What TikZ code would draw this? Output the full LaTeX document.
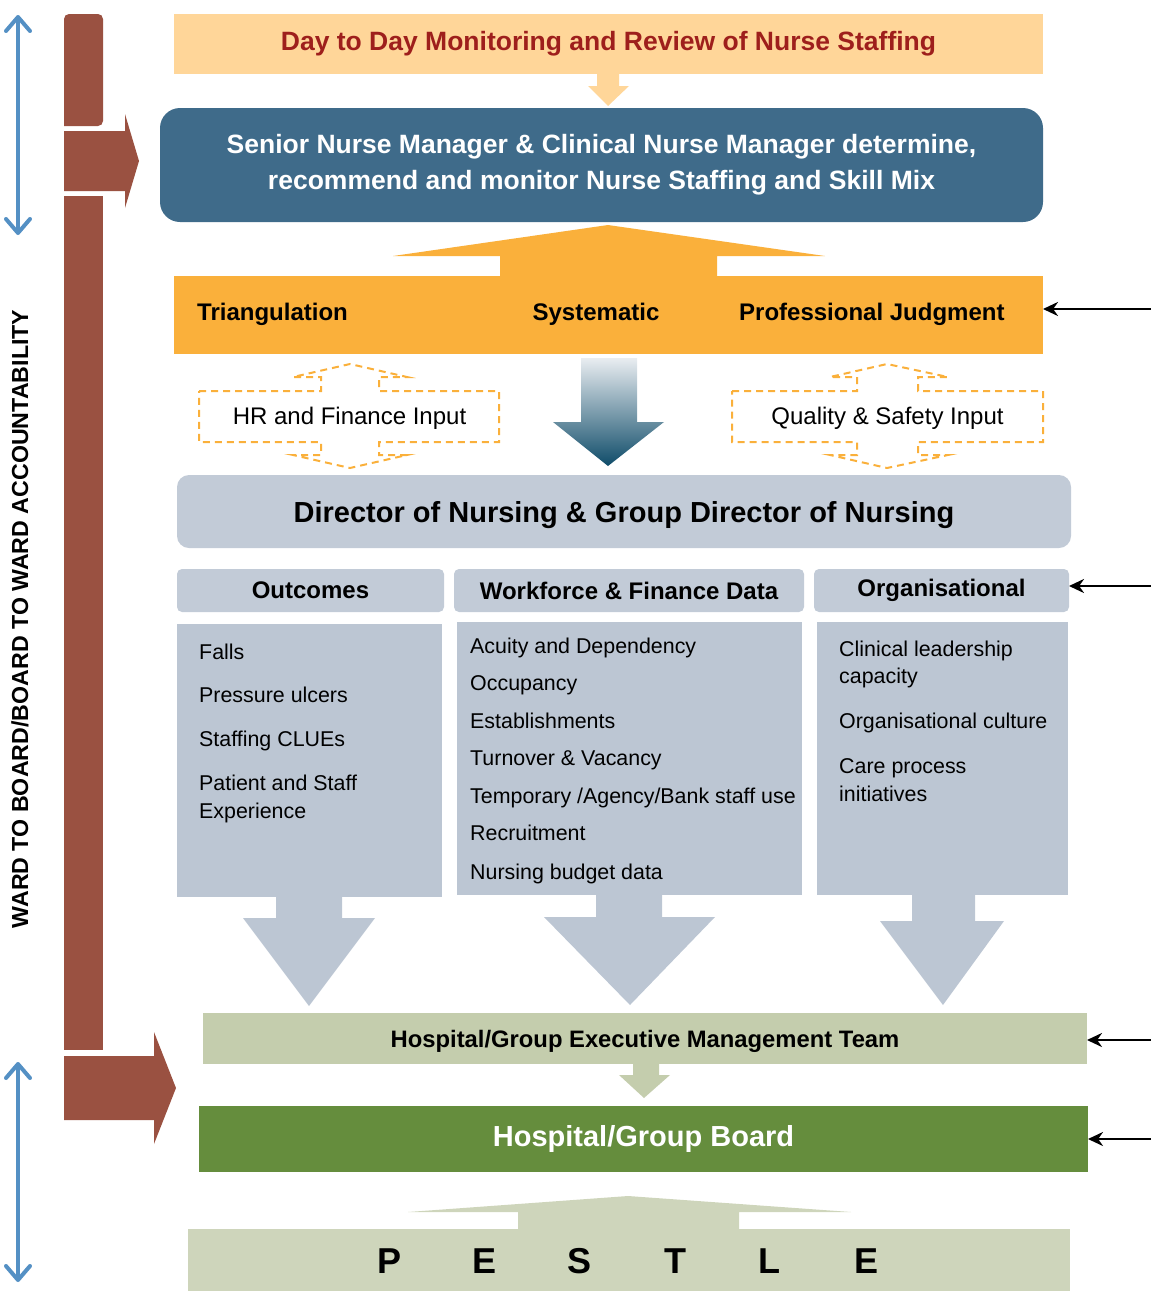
\documentclass[tikz,border=0pt]{standalone}
\usepackage{fontspec}
\setmainfont{Liberation Sans}
\usetikzlibrary{arrows.meta}
\definecolor{wardbrown}{HTML}{9A5141}
\definecolor{spanblue}{HTML}{5490C4}
\definecolor{peach}{HTML}{FFD699}
\definecolor{darkred}{HTML}{9E1F1C}
\definecolor{steel}{HTML}{3F6B8A}
\definecolor{amber}{HTML}{FAB03B}
\definecolor{slate}{HTML}{C2CBD7}
\definecolor{slatebody}{HTML}{BCC6D3}
\definecolor{sage}{HTML}{C4CDAD}
\definecolor{leaf}{HTML}{658D3D}
\definecolor{pale}{HTML}{CED5BB}
\definecolor{gradtop}{HTML}{E9EDF1}
\definecolor{gradbot}{HTML}{0F4C69}
\tikzset{
  panel/.style={inner sep=0pt, outer sep=0pt, align=center},
  bighead/.style={font=\fontsize{26.5}{36}\selectfont\bfseries},
  hdr/.style={panel, fill=slate, rounded corners=5pt, minimum height=43pt, font=\fontsize{24}{28}\selectfont\bfseries},
  tag/.style={anchor=base, inner sep=0pt, font=\fontsize{24}{28}\selectfont\bfseries},
  item/.style={anchor=base west, inner sep=0pt, font=\fontsize{21.4}{27}\selectfont},
  dashbox/.style={draw=amber, line width=2pt, dash pattern=on 7pt off 5pt},
  inarrow/.style={draw=black, line width=2.6pt, -{Stealth[length=15pt,width=14pt]}},
  span/.style={draw=spanblue, line width=4pt, line cap=round,
    {Straight Barb[length=14pt,width=24pt,round]}-{Straight Barb[length=14pt,width=24pt,round]}}
}

\begin{document}
\begin{tikzpicture}[x=1pt, y=-1pt]
  \useasboundingbox (0,0) rectangle (1151,1291);

  % accountability bar on the left
  \fill[wardbrown, rounded corners=5pt] (64,126) -- (64,14) -- (103,14) -- (103,126) [sharp corners] -- cycle;
  \fill[wardbrown] (64,131) -- (125,131) -- (125,114) -- (139,161) -- (125,208) -- (125,191) -- (64,191) -- cycle;
  \fill[wardbrown] (64,196) rectangle (103,1050);
  \fill[wardbrown] (64,1056) -- (154,1056) -- (154,1032) -- (176,1088) -- (154,1144) -- (154,1120) -- (64,1120) -- cycle;

  \coordinate (s1) at (18,15);
  \coordinate (s2) at (18,235);
  \coordinate (s3) at (18,1062);
  \coordinate (s4) at (18,1282);
  \draw[span] (s1) -- (s2);
  \draw[span] (s3) -- (s4);
  \node[panel, rotate=90, font=\fontsize{23.2}{26}\selectfont\bfseries] (wardlbl) at (20,619)
    {WARD TO BOARD/BOARD TO WARD ACCOUNTABILITY};

  % top of the flow
  \node[panel, fill=peach, text=darkred, minimum width=869pt, minimum height=60pt, bighead] (daily) at (608.5,44)
    {Day to Day Monitoring and Review of Nurse Staffing};
  \fill[peach] (597,74) -- (619,74) -- (619,86) -- (629,86) -- (608,106) -- (588,86) -- (597,86) -- cycle;
  \node[panel, fill=steel, text=white, rounded corners=20pt, minimum width=883pt, minimum height=114pt, bighead] (senior) at (601.5,165)
    {Senior Nurse Manager \& Clinical Nurse Manager determine,\\recommend and monitor Nurse Staffing and Skill Mix};

  % method bar
  \fill[amber] (608,225) -- (825,256) -- (717,256) -- (717,276) -- (500,276) -- (500,256) -- (393,256) -- cycle;
  \node[panel, fill=amber, minimum width=869pt, minimum height=78pt] (method) at (608.5,315) {};
  \node[tag, anchor=base west] (tri) at (197,320) {Triangulation};
  \node[tag] (sys) at (596,320) {Systematic};
  \node[tag, anchor=base west] (prof) at (739,320) {Professional Judgment};

  % inputs either side
  \draw[dashbox] (199,391) -- (321,391) -- (321,377) -- (293,377) -- (350,364) -- (407,377) -- (379,377) -- (379,391)
    -- (499,391) -- (499,442) -- (379,442) -- (379,455) -- (407,455) -- (350,468) -- (293,455) -- (321,455) -- (321,442)
    -- (199,442) -- cycle;
  \node[panel, font=\fontsize{24}{28}\selectfont] (hr) at (349.5,418) {HR and Finance Input};
  \draw[dashbox] (732,391) -- (857,391) -- (857,377) -- (830,377) -- (887,364) -- (948,377) -- (918,377) -- (918,391)
    -- (1043,391) -- (1043,442) -- (918,442) -- (918,455) -- (948,455) -- (887,468) -- (830,455) -- (857,455) -- (857,442)
    -- (732,442) -- cycle;
  \node[panel, font=\fontsize{24}{28}\selectfont] (qs) at (887.5,418) {Quality \& Safety Input};
  \shade[top color=gradtop, bottom color=gradbot] (581,358) -- (637,358) -- (637,422) -- (664,422) -- (608,466)
    -- (553,422) -- (581,422) -- cycle;

  \node[panel, fill=slate, rounded corners=12pt, minimum width=894pt, minimum height=73pt, text depth=0pt,
    font=\fontsize{29}{34}\selectfont\bfseries] (don) at (624,511.5) {Director of Nursing \& Group Director of Nursing};

  % three data columns
  \node[hdr, minimum width=267pt] (outc) at (310.5,590.5) {Outcomes};
  \node[hdr, minimum width=350pt] (wfd) at (629,590.5) {Workforce \& Finance Data};
  \node[hdr, minimum width=255pt] (orgn) at (941.5,590.5) {Organisational};
  \fill[slatebody] (177,624) rectangle (442,897);
  \fill[slatebody] (457,622) rectangle (802,895);
  \fill[slatebody] (817,622) rectangle (1068,895);

  \foreach \y/\t in {659/Falls, 702/Pressure ulcers, 746/Staffing CLUEs, 790/Patient and Staff, 818/Experience}
    \node[item] (o\y) at (199,\y) {\t};
  \foreach \y/\t in {653/Acuity and Dependency, 690/Occupancy, 728/Establishments, 765/{Turnover \& Vacancy},
      803/{Temporary /Agency/Bank staff use}, 840/Recruitment, 879/Nursing budget data}
    \node[item] (w\y) at (470,\y) {\t};
  \foreach \y/\t in {656/Clinical leadership, 683/capacity, 728/Organisational culture, 773/Care process, 801/initiatives}
    \node[item] (g\y) at (839,\y) {\t};

  \fill[slatebody] (276,897) -- (342,897) -- (342,918) -- (375,918) -- (309,1006) -- (243,918) -- (276,918) -- cycle;
  \fill[slatebody] (596,895) -- (662,895) -- (662,917) -- (715,917) -- (630,1005) -- (544,917) -- (596,917) -- cycle;
  \fill[slatebody] (912,895) -- (975,895) -- (975,921) -- (1004,921) -- (943,1005) -- (880,921) -- (912,921) -- cycle;

  % executive and board
  \node[panel, fill=sage, minimum width=884pt, minimum height=51pt, text depth=0pt, font=\fontsize{23.8}{28}\selectfont\bfseries] (exec)
    at (645,1038.5) {Hospital/Group Executive Management Team};
  \fill[sage] (633,1064) -- (659,1064) -- (659,1075) -- (670,1075) -- (644,1098) -- (619,1075) -- (633,1075) -- cycle;
  \node[panel, fill=leaf, text=white, minimum width=889pt, minimum height=66pt, font=\fontsize{29}{34}\selectfont\bfseries] (board)
    at (643.5,1139) {Hospital/Group Board};

  % PESTLE base
  \fill[pale] (628,1196) -- (851,1212) -- (739,1212) -- (739,1229) -- (518,1229) -- (518,1212) -- (408,1212) -- cycle;
  \fill[pale] (188,1229) rectangle (1070,1291);
  \foreach \x/\l in {390/P, 485/E, 580/S, 675/T, 769/L, 866/E}
    \node[panel, font=\fontsize{36}{40}\selectfont\bfseries] (p\x) at (\x,1261) {\l};

  % external inputs from the right
  \coordinate (in1) at (1151,309);
  \coordinate (in2) at (1151,586);
  \coordinate (in3) at (1151,1040);
  \coordinate (in4) at (1151,1139);
  \draw[inarrow] (in1) -- (in1 -| method.east);
  \draw[inarrow] (in2) -- (in2 -| orgn.east);
  \draw[inarrow] (in3) -- (in3 -| exec.east);
  \draw[inarrow] (in4) -- (in4 -| board.east);
\end{tikzpicture}
\end{document}
